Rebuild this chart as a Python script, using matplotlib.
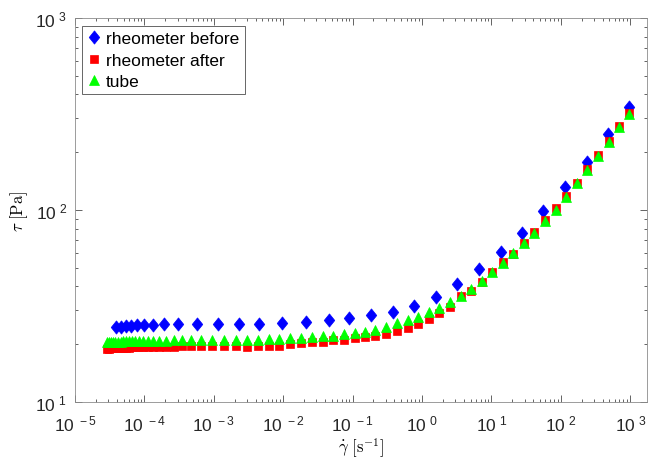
"""
 Title:         Flow curve
 Description:   Shear stress vs shear rate, rheometer before/after and tube
"""

# Libraries
import math
import matplotlib
matplotlib.use("Agg")
import matplotlib.pyplot as plt
from matplotlib.path import Path
from matplotlib.ticker import LogLocator, FixedLocator, FuncFormatter, NullFormatter

# Data
shear_before = [3.86e-5, 4.60e-5, 5.43e-5, 6.41e-5, 7.81e-5, 1.00e-4, 1.33e-4, 1.91e-4,
                3.08e-4, 5.68e-4, 1.16e-3, 2.29e-3, 4.53e-3, 9.5e-3, 2.13e-2, 4.53e-2,
                9.0e-2, 0.187, 0.381, 0.775, 1.59, 3.23, 6.63, 13.6, 27.9, 56.0,
                115, 236, 480, 975]
stress_before = [24.5, 24.7, 24.9, 25.0, 25.2, 25.3, 25.3, 25.4, 25.5, 25.5, 25.5, 25.5,
                 25.5, 25.7, 26.0, 26.8, 27.4, 28.4, 29.5, 31.6, 35.3, 41.2, 49.3, 60.4,
                 76.2, 99.2, 131, 178, 248, 343]

shear_after = [2.89e-5, 3.09e-5, 3.30e-5, 3.53e-5, 3.83e-5, 4.17e-5, 4.53e-5, 4.92e-5,
               5.43e-5, 6.00e-5, 6.63e-5, 7.32e-5, 8.36e-5, 9.54e-5, 1.13e-4, 1.33e-4,
               1.62e-4, 2.05e-4, 2.67e-4, 3.48e-4, 4.69e-4, 6.54e-4, 9.42e-4, 1.40e-3,
               2.09e-3, 3.04e-3, 4.34e-3, 6.24e-3, 8.79e-3, 1.25e-2, 1.79e-2, 2.60e-2,
               3.71e-2, 5.27e-2, 7.52e-2, 0.107, 0.151, 0.212, 0.303, 0.432, 0.622,
               0.885, 1.25, 1.78, 2.53, 3.61, 5.08, 7.25, 10.3, 14.7, 20.7, 29.5, 41.5,
               59.2, 84.4, 119, 169, 241, 344, 490, 697, 975]
stress_after = [18.9, 18.95, 19.0, 19.0, 19.05, 19.1, 19.1, 19.15, 19.2, 19.2, 19.25, 19.3,
                19.3, 19.35, 19.35, 19.4, 19.4, 19.45, 19.45, 19.5, 19.5, 19.5, 19.5, 19.5,
                19.5, 19.4, 19.5, 19.6, 19.6, 20.0, 20.2, 20.6, 20.6, 21.0, 21.1, 21.5,
                21.9, 22.1, 22.6, 23.3, 24.4, 25.5, 27.1, 29.0, 31.4, 35.5, 38.0, 42.3,
                47.4, 53.4, 59.0, 67.3, 76.5, 88.7, 102.4, 118.8, 138.2, 163.5, 193.4,
                229.7, 272.9, 320]

shear_tube = shear_after
stress_tube = [20.5, 20.5, 20.55, 20.6, 20.6, 20.6, 20.65, 20.7, 20.7, 20.7, 20.75, 20.8,
               20.8, 20.8, 20.85, 20.9, 20.9, 20.9, 20.95, 21.0, 21.0, 21.0, 21.05, 21.1,
               21.1, 21.1, 21.1, 21.2, 21.3, 21.5, 21.5, 21.7, 22.0, 22.1, 22.5, 22.9,
               23.2, 23.8, 24.6, 25.7, 26.7, 27.8, 29.5, 31.0, 33.1, 35.8, 38.8, 42.7,
               47.4, 53.2, 59.5, 67.3, 75.9, 87.4, 100.4, 117.3, 137.7, 161.6, 191.8,
               226.8, 271.6, 316]

labels = ["rheometer before", "rheometer after", "tube"]
x_ticks = [1e-5, 1e-4, 1e-3, 1e-2, 1e-1, 1e0, 1e1, 1e2, 1e3]
y_ticks = [1e1, 1e2, 1e3]

# Fonts
plt.rcParams["font.family"] = ["Liberation Sans", "DejaVu Sans"]
plt.rcParams["mathtext.fontset"] = "cm"

# MATLAB-like diamond (a bit taller than wide)
diamond = Path([(0, -1), (0.8, 0), (0, 1), (-0.8, 0), (0, -1)],
               [Path.MOVETO, Path.LINETO, Path.LINETO, Path.LINETO, Path.CLOSEPOLY])

fig = plt.figure(figsize=(6.48, 4.60), dpi=100)
ax = fig.add_axes([75/648, 1 - 403/460, 572/648, 384/460])

ax.plot(shear_before, stress_before, linestyle="none", marker=diamond, markersize=9.5,
        color="#0000ff", markeredgewidth=0.5, label=labels[0])
ax.plot(shear_after, stress_after, linestyle="none", marker="s", markersize=5.7,
        color="#ff0000", markeredgewidth=0.5, label=labels[1])
ax.plot(shear_tube, stress_tube, linestyle="none", marker="^", markersize=7.5,
        color="#00ff00", markeredgewidth=0.5, label=labels[2])

ax.set_xscale("log")
ax.set_yscale("log")
ax.set_xlim(1e-5, 1746)
ax.set_ylim(10, 1000)

# Ticks
def sci_label(val, pos):
    exp = int(round(math.log10(val)))
    return r"$\mathregular{10^{\ %d}}$" % exp

ax.xaxis.set_major_locator(FixedLocator(x_ticks))
ax.yaxis.set_major_locator(FixedLocator(y_ticks))
for axis in (ax.xaxis, ax.yaxis):
    axis.set_minor_locator(LogLocator(base=10, subs=range(2, 10), numticks=20))
    axis.set_major_formatter(FuncFormatter(sci_label))
    axis.set_minor_formatter(NullFormatter())

ax.tick_params(which="both", direction="in", top=True, right=True, colors="0.15",
               labelsize=12.5, width=0.5)
ax.tick_params(which="major", length=5)
ax.tick_params(which="minor", length=2.5)
ax.tick_params(axis="x", pad=8)
ax.tick_params(axis="y", pad=6)
for spine in ax.spines.values():
    spine.set_color("0.55")
    spine.set_linewidth(0.6)

ax.set_xlabel(r"$\dot{\gamma}\ [\mathrm{s}^{-1}]$", fontsize=12, labelpad=2)
ax.set_ylabel(r"$\tau\ [\mathrm{Pa}]$", fontsize=12, labelpad=4)

leg = ax.legend(loc="upper left", bbox_to_anchor=(0.012, 0.979), borderaxespad=0,
                fontsize=12.5, numpoints=1, handlelength=0.8, handletextpad=0.3,
                borderpad=0.3, labelspacing=0.35, fancybox=False, framealpha=1,
                edgecolor="0.3")
leg.get_frame().set_linewidth(0.6)

plt.savefig("out.png", dpi=100)
plt.close()
